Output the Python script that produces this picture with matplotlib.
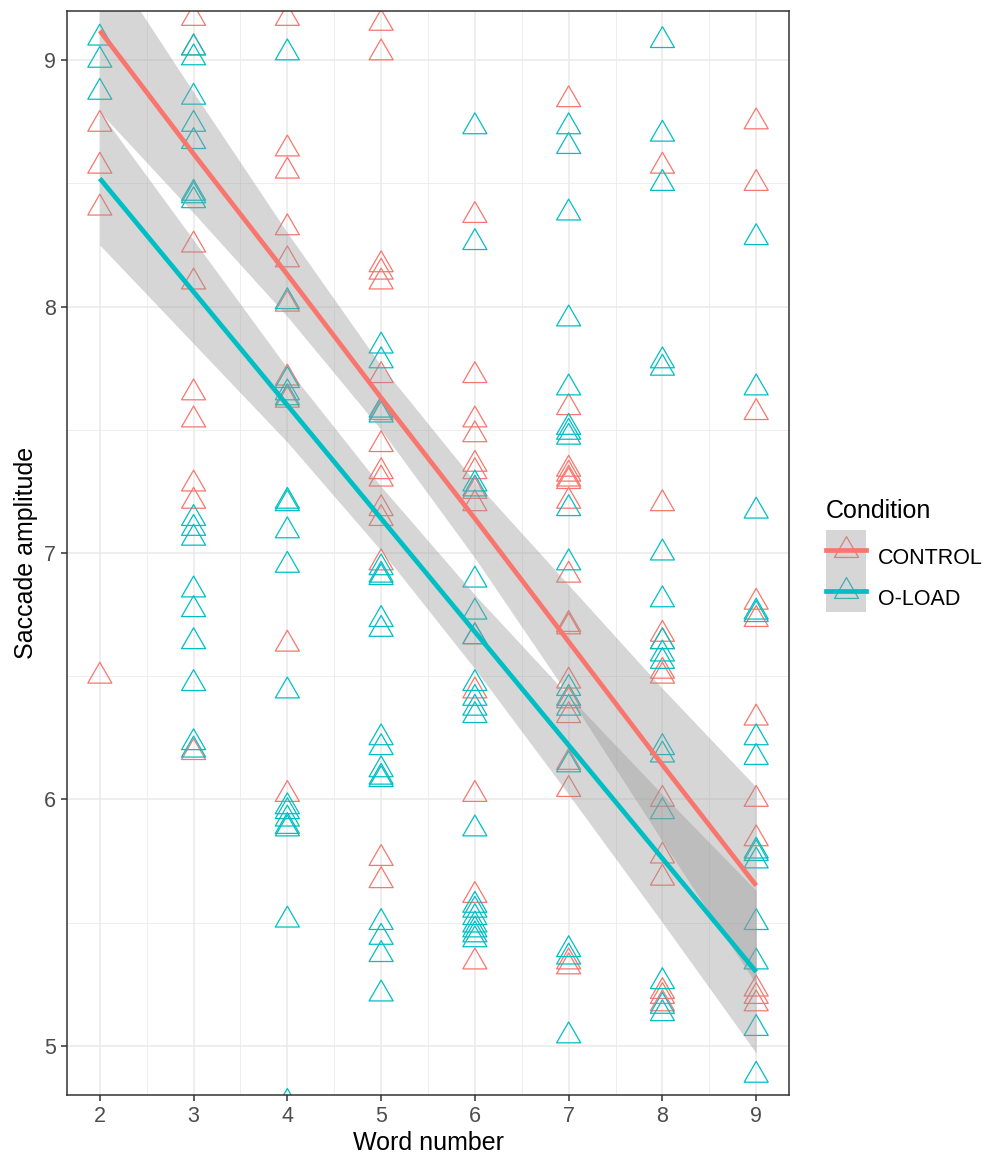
import matplotlib
matplotlib.use("Agg")
import matplotlib.pyplot as plt
from matplotlib.path import Path
from matplotlib.lines import Line2D
from matplotlib.patches import Patch, Rectangle
from matplotlib.legend_handler import HandlerTuple, HandlerPatch
from matplotlib.ticker import MultipleLocator

plt.rcParams['font.family'] = ['Liberation Sans', 'DejaVu Sans']

words = [2, 3, 4, 5, 6, 7, 8, 9]
conditions = ["CONTROL", "O-LOAD"]
colors = ["#F8766D", "#00BFC4"]

# saccade amplitudes per word number
control_amp = [
    [8.74, 8.57, 8.40, 6.50],
    [9.17, 9.05, 8.25, 8.10, 7.65, 7.54, 7.28, 7.21, 6.19],
    [9.17, 8.64, 8.55, 8.32, 8.19, 8.01, 7.71, 7.62, 6.63, 6.02],
    [9.15, 9.03, 8.17, 8.14, 8.10, 7.72, 7.57, 7.44, 7.33, 7.30, 7.18, 7.14, 6.96, 5.76, 5.67],
    [8.37, 7.72, 7.54, 7.48, 7.36, 7.33, 7.25, 7.20, 6.66, 6.44, 6.02, 5.61, 5.34],
    [8.84, 7.59, 7.34, 7.32, 7.30, 7.29, 7.21, 6.91, 6.71, 6.70, 6.48, 6.40, 6.34, 6.15, 6.04, 5.34, 5.32],
    [8.57, 7.20, 6.67, 6.64, 6.52, 6.50, 6.00, 5.77, 5.68, 5.22, 5.20, 5.17],
    [8.75, 8.50, 7.57, 6.80, 6.73, 6.33, 6.00, 5.84, 5.23, 5.20, 5.17],
]
oload_amp = [
    [9.09, 9.00, 8.87],
    [9.05, 9.01, 8.85, 8.74, 8.67, 8.46, 8.45, 8.43, 7.14, 7.10, 7.06, 6.85, 6.77, 6.64, 6.47, 6.23, 6.20],
    [9.03, 8.02, 7.70, 7.65, 7.63, 7.21, 7.20, 7.09, 6.95, 6.44, 5.97, 5.95, 5.92, 5.89, 5.88, 5.51, 4.77],
    [7.84, 7.78, 7.58, 7.56, 6.94, 6.91, 6.90, 6.73, 6.69, 6.25, 6.21, 6.12, 6.09, 6.08, 5.50, 5.44, 5.37, 5.21],
    [8.73, 8.26, 7.28, 7.26, 6.89, 6.76, 6.66, 6.47, 6.41, 6.37, 6.34, 5.88, 5.57, 5.55, 5.52, 5.49, 5.47, 5.45, 5.43],
    [8.73, 8.65, 8.38, 7.95, 7.67, 7.51, 7.49, 7.47, 7.18, 6.96, 6.45, 6.41, 6.37, 6.14, 5.39, 5.36, 5.04],
    [9.08, 8.70, 8.50, 7.78, 7.75, 7.00, 6.81, 6.64, 6.59, 6.56, 6.21, 6.18, 5.95, 5.26, 5.16, 5.13],
    [8.28, 7.67, 7.17, 6.76, 6.75, 6.25, 6.17, 5.79, 5.78, 5.75, 5.50, 5.34, 5.07, 4.88],
]

# fitted lines and confidence bands
control_fit = [9.12, 8.62, 8.13, 7.63, 7.14, 6.64, 6.14, 5.65]
control_lo = [8.79, 8.38, 7.96, 7.50, 6.98, 6.42, 5.83, 5.25]
control_hi = [9.45, 8.87, 8.30, 7.76, 7.29, 6.87, 6.45, 6.05]
oload_fit = [8.52, 8.06, 7.60, 7.14, 6.68, 6.22, 5.76, 5.30]
oload_lo = [8.25, 7.85, 7.45, 7.01, 6.53, 6.02, 5.50, 4.97]
oload_hi = [8.79, 8.27, 7.75, 7.27, 6.83, 6.42, 6.02, 5.63]

amps = [control_amp, oload_amp]
fits = [control_fit, oload_fit]
los = [control_lo, oload_lo]
his = [control_hi, oload_hi]

# open triangle centred on its centroid, like R's pch 2
tri = Path([(0, 1), (-0.866, -0.5), (0.866, -0.5), (0, 1)], closed=True)

fig = plt.figure(figsize=(9.88, 11.63), dpi=100)
ax = fig.add_axes([67 / 988, 1 - 1095 / 1163, (789 - 67) / 988, (1095 - 11) / 1163])

for amp, c in zip(amps, colors):
    xs = [w for w, vals in zip(words, amp) for _ in vals]
    ys = [v for vals in amp for v in vals]
    ax.scatter(xs, ys, marker=tri, s=20 ** 2, facecolors='none',
               edgecolors=c, linewidths=0.9, zorder=2)

for fit, lo, hi, c in zip(fits, los, his, colors):
    ax.fill_between(words, lo, hi, color='#999999', alpha=0.4, linewidth=0, zorder=3)
    ax.plot(words, fit, color=c, lw=3.4, zorder=4, solid_capstyle='butt')

ax.set_xlim(1.65, 9.35)
ax.set_ylim(4.8, 9.2)
ax.xaxis.set_major_locator(MultipleLocator(1))
ax.xaxis.set_minor_locator(MultipleLocator(0.5))
ax.yaxis.set_major_locator(MultipleLocator(1))
ax.yaxis.set_minor_locator(MultipleLocator(0.5))
ax.grid(which='major', color='#EBEBEB', lw=1.2, zorder=0)
ax.grid(which='minor', color='#EBEBEB', lw=0.6, zorder=0)
ax.set_axisbelow(True)
ax.tick_params(which='major', length=4.5, width=1.1, color='#333333',
               labelcolor='#4D4D4D', labelsize=15.5, pad=3.5)
ax.tick_params(which='minor', length=0)
for sp in ax.spines.values():
    sp.set_color('#333333')
    sp.set_linewidth(1.1)
    sp.set_zorder(5)

ax.set_xlabel('Word number', fontsize=18, labelpad=3)
ax.set_ylabel('Saccade amplitude', fontsize=18, labelpad=4)


# grey key box centred on the key line, as ggplot does
def key_box(legend, orig_handle, xdescent, ydescent, width, height, fontsize):
    return Rectangle((-xdescent, -ydescent / 2), width, height)


handles = []
for c in colors:
    pt = Line2D([], [], linestyle='none', marker=tri, markersize=20,
                markerfacecolor='none', markeredgecolor=c, markeredgewidth=0.9)
    box = Patch(facecolor='#999999', alpha=0.4, linewidth=0)
    ln = Line2D([], [], color=c, lw=3.4)
    handles.append((pt, box, ln))

leg = ax.legend(handles, conditions,
                handler_map={tuple: HandlerTuple(ndivide=1, pad=0),
                             Patch: HandlerPatch(patch_func=key_box)},
                loc='upper left', bbox_to_anchor=(826 / 988, 1 - 499 / 1163),
                bbox_transform=fig.transFigure, frameon=False, fontsize=15.5,
                title='Condition', title_fontsize=18, handlelength=1.87,
                handleheight=2.55, labelspacing=0, handletextpad=0.55,
                borderpad=0, borderaxespad=0, alignment='left')
leg._legend_box.sep = 10

fig.savefig('out.png', dpi=100)
